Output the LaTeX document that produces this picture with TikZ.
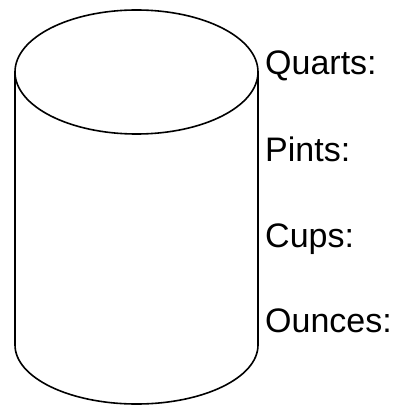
\documentclass[tikz,border=0pt]{standalone}
\usepackage{fontspec}
\setmainfont{Liberation Sans}
\usepackage{tikz}
\usetikzlibrary{positioning}
\tikzstyle{outline} = [draw=black, line width=1.6pt]
\tikzstyle{unit} = [anchor=base west, inner sep=0pt, font=\fontsize{34}{37}\selectfont]

\begin{document}
\begin{tikzpicture}[x=1pt, y=-1pt]
        \useasboundingbox (0,0) rectangle (393,406);
        % cylinder
        \draw [outline] (136.5,72) ellipse [x radius=121.5, y radius=62];
        \draw [outline] (15,72) -- (15,345) arc [start angle=180, end angle=360, x radius=121.5, y radius=-59] -- (258,72);
        % units
        \node (quarts) [unit] at (265,75) {Quarts:};
        \node (pints) [unit] at (265,161) {Pints:};
        \node (cups) [unit] at (265,247) {Cups:};
        \node (ounces) [unit] at (265,332) {Ounces:};
    \end{tikzpicture}
\end{document}
